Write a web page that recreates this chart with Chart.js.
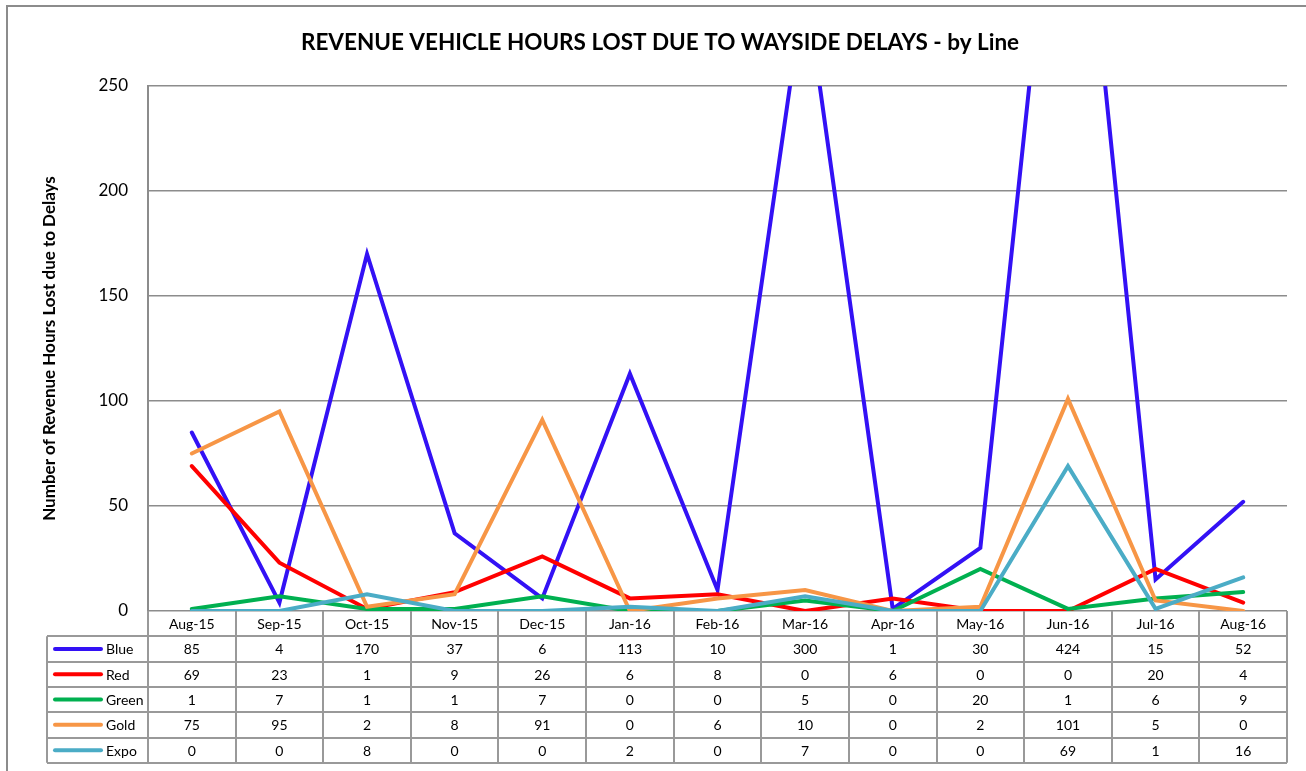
<!DOCTYPE html>
<html>
<head>
<meta charset="utf-8">
<script src="https://cdn.jsdelivr.net/npm/chart.js@4/dist/chart.umd.min.js"></script>
<style>
  html, body { margin: 0; padding: 0; background: #fff; }
  #wrap { width: 1306px; height: 771px; }
</style>
</head>
<body>
<div id="wrap"><canvas id="chart" width="1306" height="771"></canvas></div>
<script>
const months = ['Aug-15', 'Sep-15', 'Oct-15', 'Nov-15', 'Dec-15', 'Jan-16', 'Feb-16', 'Mar-16', 'Apr-16', 'May-16', 'Jun-16', 'Jul-16', 'Aug-16'];
const blue  = [85, 4, 170, 37, 6, 113, 10, 300, 1, 30, 424, 15, 52];
const red   = [69, 23, 1, 9, 26, 6, 8, 0, 6, 0, 0, 20, 4];
const green = [1, 7, 1, 1, 7, 0, 0, 5, 0, 20, 1, 6, 9];
const gold  = [75, 95, 2, 8, 91, 0, 6, 10, 0, 2, 101, 5, 0];
const expo  = [0, 0, 8, 0, 0, 2, 0, 7, 0, 0, 69, 1, 16];
const yTicks = [0, 50, 100, 150, 200, 250];

const TITLE = 'REVENUE VEHICLE HOURS LOST DUE TO WAYSIDE DELAYS - by Line';
const FONT = 'Lato, "Liberation Sans", sans-serif';

const series = [
    { label: 'Blue',  data: blue,  color: '#3311f5' },
    { label: 'Red',   data: red,   color: '#ff0000' },
    { label: 'Green', data: green, color: '#00b050' },
    { label: 'Gold',  data: gold,  color: '#f79646' },
    { label: 'Expo',  data: expo,  color: '#4bacc6' },
];

// title, outer frame and the data table under the plot
const tablePlugin = {
    id: 'dataTable',
    afterDraw(chart) {
        const ctx = chart.ctx;
        const ca = chart.chartArea;
        const xs = chart.scales.x;
        const n = months.length;
        const colW = ca.width / n;
        const rowH = 25.3;
        const legLeft = 47;
        const top = ca.bottom;
        const bottom = top + rowH * (series.length + 1);

        ctx.save();
        ctx.strokeStyle = '#8c8c8c';
        ctx.lineWidth = 2;
        ctx.strokeRect(7, 6, chart.width + 10, chart.height + 10);

        ctx.fillStyle = '#000';
        ctx.font = 'bold 22.5px ' + FONT;
        ctx.textAlign = 'center';
        ctx.textBaseline = 'middle';
        ctx.fillText(TITLE, 660, 43);

        ctx.strokeStyle = '#999999';
        ctx.lineWidth = 2;
        ctx.beginPath();
        for (let i = 0; i <= n; i++) {
            const x = Math.round(ca.left + i * colW);
            ctx.moveTo(x, top);
            ctx.lineTo(x, bottom);
        }
        ctx.moveTo(legLeft, top + rowH);
        ctx.lineTo(legLeft, bottom);
        for (let r = 1; r <= series.length + 1; r++) {
            const y = Math.round(top + r * rowH);
            ctx.moveTo(legLeft, y);
            ctx.lineTo(ca.right, y);
        }
        ctx.stroke();

        ctx.font = '14px ' + FONT;
        months.forEach((m, i) => {
            ctx.fillText(m, xs.getPixelForValue(i), top + rowH / 2 + 1);
        });

        series.forEach((s, r) => {
            const cy = top + rowH * (r + 1.5) + 1;
            ctx.strokeStyle = s.color;
            ctx.lineWidth = 4;
            ctx.lineCap = 'round';
            ctx.beginPath();
            ctx.moveTo(55, cy - 1);
            ctx.lineTo(101, cy - 1);
            ctx.stroke();
            ctx.textAlign = 'left';
            ctx.fillText(s.label, 106, cy);
            ctx.textAlign = 'center';
            s.data.forEach((v, i) => {
                ctx.fillText(String(v), xs.getPixelForValue(i), cy);
            });
        });
        ctx.restore();
    }
};

new Chart(document.getElementById('chart'), {
    type: 'line',
    data: {
        labels: months,
        datasets: series.map((s, i) => ({
            label: s.label,
            data: s.data,
            borderColor: s.color,
            backgroundColor: s.color,
            borderWidth: 4,
            borderCapStyle: 'round',
            pointRadius: 0,
            tension: 0,
            order: series.length - i,
        })),
    },
    options: {
        responsive: false,
        animation: false,
        layout: { padding: { left: 0, right: 19, top: 86, bottom: 160 } },
        plugins: {
            legend: { display: false },
            tooltip: { enabled: false },
            title: { display: false },
        },
        scales: {
            x: {
                display: false,
                offset: true,
            },
            y: {
                min: 0,
                max: 250,
                afterBuildTicks: (scale) => { scale.ticks = yTicks.map(v => ({ value: v })); },
                afterFit: (scale) => { scale.width = 148; },
                border: { display: true, color: '#8c8c8c', width: 2 },
                grid: { color: '#8c8c8c', lineWidth: 1.5, drawTicks: false },
                ticks: {
                    color: '#000',
                    padding: 20,
                    font: { family: FONT, size: 17 },
                },
                title: {
                    display: true,
                    text: 'Number of Revenue Hours Lost due to Delays',
                    color: '#000',
                    font: { family: FONT, size: 17, weight: 'bold' },
                    padding: { top: 39, bottom: 0 },
                },
            },
        },
    },
    plugins: [tablePlugin],
});
</script>
</body>
</html>
